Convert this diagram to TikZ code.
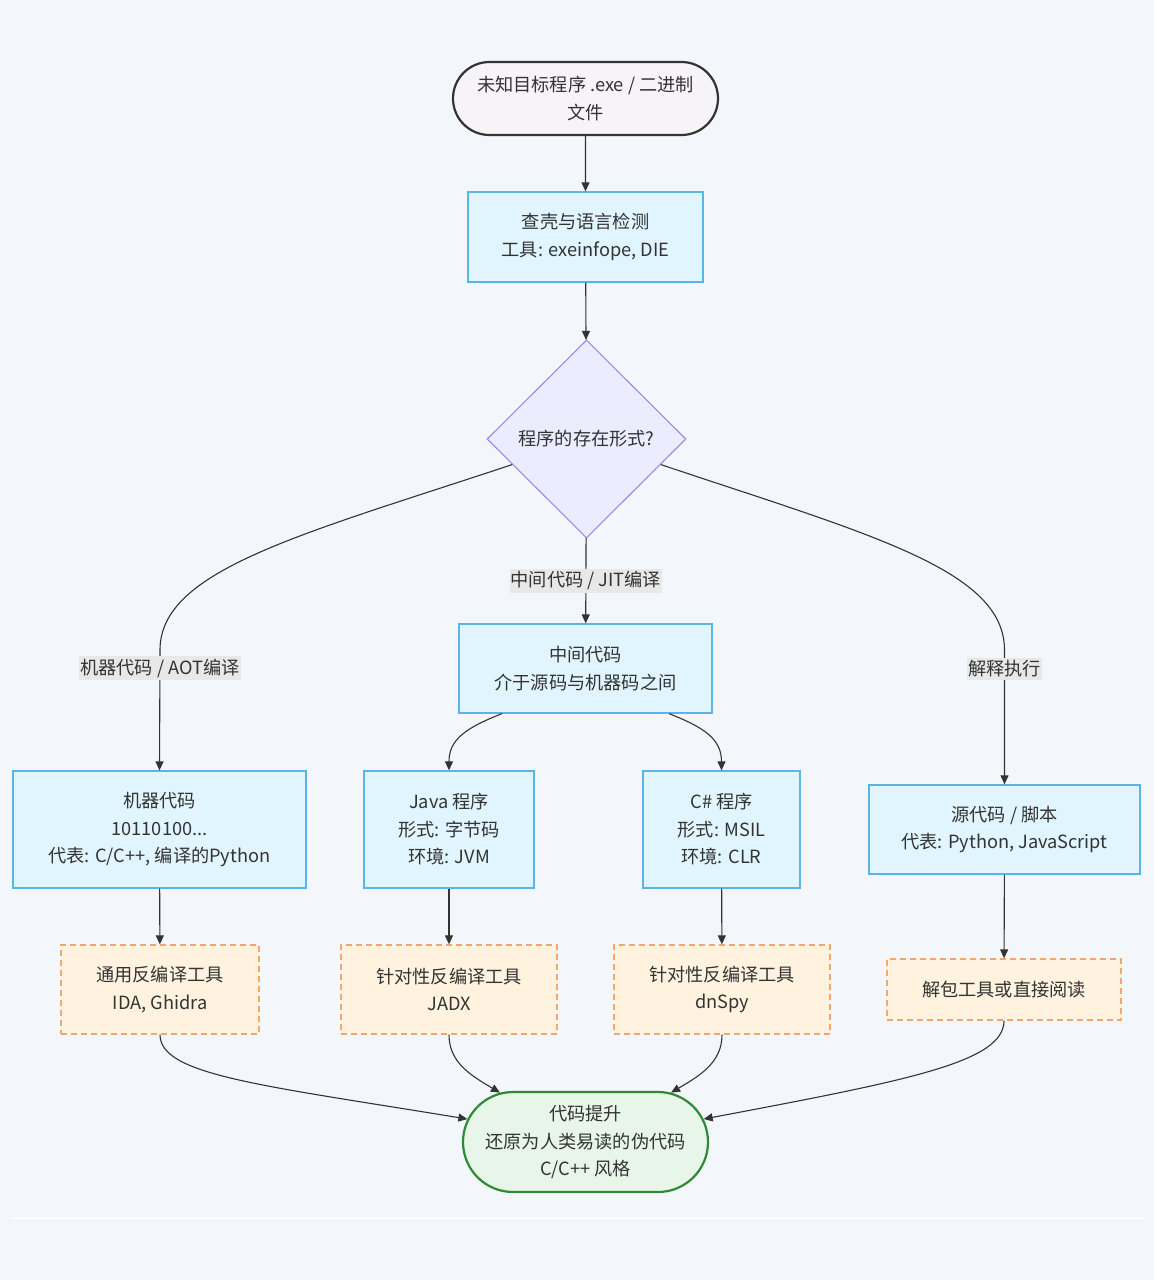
\documentclass[tikz,border=0pt]{standalone}
\usepackage{fontspec}
\setmainfont{Noto Sans CJK SC}
\usetikzlibrary{shapes.geometric,shapes.misc,arrows.meta,calc}
\definecolor{bgc}{HTML}{F3F6FA}
\definecolor{txt}{HTML}{333333}
\definecolor{startfill}{HTML}{F6F4F6}
\definecolor{bluefill}{HTML}{E1F5FE}
\definecolor{bluedraw}{HTML}{5AB4E8}
\definecolor{purfill}{HTML}{ECECFF}
\definecolor{purdraw}{HTML}{A08BE6}
\definecolor{orfill}{HTML}{FFF3E0}
\definecolor{ordraw}{HTML}{F5A66A}
\definecolor{grfill}{HTML}{E8F5E9}
\definecolor{grdraw}{HTML}{2E8B34}
\definecolor{lblbg}{HTML}{E8E8E8}
\definecolor{edgec}{HTML}{333333}
\begin{document}
\begin{tikzpicture}[x=1pt,y=-1pt,
  every node/.style={font=\fontsize{18.2}{27.5}\selectfont, text=txt, align=center, inner sep=0pt},
  bluebox/.style={draw=bluedraw, fill=bluefill, line width=1.3pt, rectangle},
  orbox/.style={draw=ordraw, fill=orfill, line width=1.3pt, dashed, dash pattern=on 6pt off 4pt, rectangle},
  conn/.style={draw=edgec, line width=1.1pt, -{Triangle[length=9pt,width=8pt]}},
  lbl/.style={fill=lblbg, inner xsep=1pt, inner ysep=2.5pt}
]
\fill[bgc] (0,0) rectangle (1154,1280);
\useasboundingbox (0,0) rectangle (1154,1280);
\draw[white, line width=2pt] (10,1218) -- (1144,1218);

% nodes
\node[draw=txt, fill=startfill, line width=2.2pt, rounded rectangle, minimum width=265pt, minimum height=73pt] (start) at (585.5,98.5) {未知目标程序 .exe / 二进制\\文件};
\node[bluebox, minimum width=235pt, minimum height=90pt] (check) at (585.5,237) {查壳与语言检测\\工具: exeinfope, DIE};
\node[diamond, draw=purdraw, fill=purfill, line width=1.1pt, minimum width=199pt, minimum height=198pt] (form) at (586.5,439) {程序的存在形式?};
\node[bluebox, minimum width=253pt, minimum height=89pt] (mid) at (585.5,668.5) {中间代码\\介于源码与机器码之间};
\node[bluebox, minimum width=293pt, minimum height=117pt] (mach) at (159.5,829.5) {机器代码\\10110100...\\代表: C/C++, 编译的Python};
\node[bluebox, minimum width=170pt, minimum height=117pt] (java) at (449,829.5) {Java 程序\\形式: 字节码\\环境: JVM};
\node[bluebox, minimum width=157pt, minimum height=117pt] (cs) at (721.5,829.5) {C\# 程序\\形式: MSIL\\环境: CLR};
\node[bluebox, minimum width=271pt, minimum height=89pt] (src) at (1004.5,829.5) {源代码 / 脚本\\代表: Python, JavaScript};
\node[orbox, minimum width=198pt, minimum height=89pt] (gen) at (160,989.5) {通用反编译工具\\IDA, Ghidra};
\node[orbox, minimum width=216pt, minimum height=89pt] (jadx) at (449,989.5) {针对性反编译工具\\JADX};
\node[orbox, minimum width=216pt, minimum height=89pt] (dnspy) at (722,989.5) {针对性反编译工具\\dnSpy};
\node[orbox, minimum width=234pt, minimum height=61pt] (unpack) at (1004,989.5) {解包工具或直接阅读};
\node[draw=grdraw, fill=grfill, line width=2.2pt, rounded rectangle, minimum width=245pt, minimum height=100pt] (lift) at (585.5,1142) {代码提升\\还原为人类易读的伪代码\\C/C++ 风格};

% connectors
\draw[conn] (start) -- (check);
\draw[conn] (check) -- (form);
\draw[conn] (form) -- node[lbl] (lj) {中间代码 / JIT编译} (mid);
\draw[conn] (form.199) .. controls (300,535) and (160,570) .. (160,650) -- node[lbl, pos=0.15] (la) {机器代码 / AOT编译} (mach.north);
\draw[conn] (form.-19) .. controls (871,535) and (1004.5,570) .. (1004.5,650) -- node[lbl, pos=0.14] (li) {解释执行} (src.north);
\draw[conn] ([xshift=-83.5pt]mid.south) .. controls (465,728) and (449,740) .. (java.north);
\draw[conn] ([xshift=83.5pt]mid.south) .. controls (706,728) and (721.5,740) .. (cs.north);
\draw[conn] (mach) -- (gen);
\draw[conn] (java) -- (jadx);
\draw[conn] (cs) -- (dnspy);
\draw[conn] (src) -- (unpack);
\draw[conn] (gen.south) .. controls (160,1075) and (260,1085) .. (lift.169);
\draw[conn] (jadx.south) .. controls (449,1062) and (470,1075) .. (lift.150);
\draw[conn] (dnspy.south) .. controls (722,1062) and (701,1075) .. (lift.30);
\draw[conn] (unpack.south) .. controls (1004,1062) and (910,1080) .. (lift.11);
\end{tikzpicture}
\end{document}
